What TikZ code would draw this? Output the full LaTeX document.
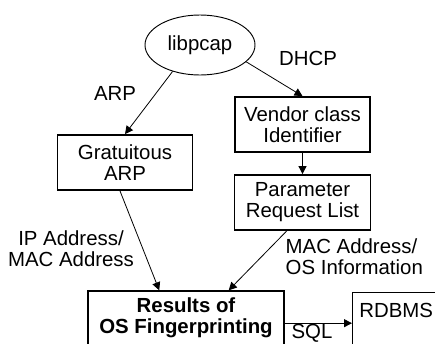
\documentclass[tikz,border=0pt]{standalone}
\usepackage{fontspec}
\setmainfont{Liberation Sans}
\usetikzlibrary{arrows.meta, shapes.geometric}

\begin{document}
\begin{tikzpicture}[x=0.75pt, y=-0.75pt, font=\fontsize{15.3}{15.75}\selectfont,
    >={Triangle[length=6pt, width=6pt]},
    box/.style={draw, line width=1.1pt, inner sep=0pt, align=center},
    flow/.style={->, line width=0.6pt}]
    \useasboundingbox (0,0) rectangle (435,343);
    \clip (0,0) rectangle (435,343);
    \node[draw, ellipse, line width=0.7pt, minimum width=82.5pt, minimum height=45pt, inner sep=0pt]
      (lib) at (200,45) {libpcap};
    \node[box, minimum width=101.5pt, minimum height=41.5pt] (grat) at (125,162.5)
      {Gratuitous\\ARP};
    \node[box, minimum width=101pt, minimum height=41.5pt] (vend) at (302.5,124.5)
      {Vendor class\\Identifier};
    \node[box, minimum width=102pt, minimum height=41.5pt] (par) at (302.5,202.5)
      {Parameter\\Request List};
    \node[box, minimum width=147pt, minimum height=40.5pt] (res) at (186,318)
      {\bfseries Results of\\\bfseries OS Fingerprinting};
    \node[box, anchor=north west, inner xsep=5pt, inner ysep=7.5pt,
      text height=11pt, text depth=30pt] (db) at (352,292) {RDBMS};
    % edge labels
    \node (arp) at (115,93) {ARP};
    \node (dhcp) at (308,58) {DHCP};
    \node[align=center] (ipmac) at (71,249) {IP Address/\\MAC Address};
    \node[align=left, anchor=west] (macos) at (281,257) {MAC Address/\\OS Information};
    \node (sql) at (312,333) {SQL};
    \draw[flow] (lib.224) -- (grat.north);
    \draw[flow] (lib.340) -- (vend.north);
    \draw[flow] (vend.south) -- (par.north);
    \draw[flow] (grat.260) -- (res.134);
    \draw[flow] (par.241) -- (res.33);
    \draw[flow] (res.-3) -- (res.-3 -| db.west);
  \end{tikzpicture}
\end{document}
